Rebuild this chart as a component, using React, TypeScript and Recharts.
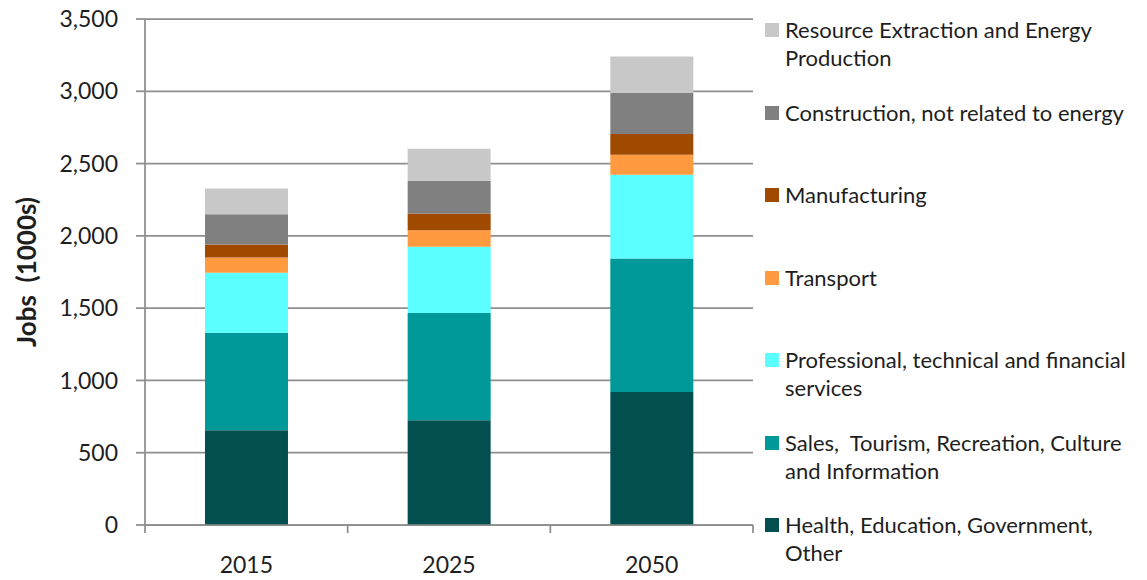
import { Bar, BarChart, CartesianGrid, XAxis, YAxis } from 'recharts'

const years = ['2015', '2025', '2050']

// stacked bottom -> top
const health = [655, 725, 920]
const sales = [675, 742, 924]
const professional = [415, 457, 579]
const transport = [105, 115, 138]
const manufacturing = [90, 115, 144]
const construction = [210, 227, 283]
const resource = [178, 221, 253]

const yTicks = [0, 500, 1000, 1500, 2000, 2500, 3000, 3500]

const series = [
  { key: 'health', name: 'Health, Education, Government, Other', color: '#024f50', values: health },
  { key: 'sales', name: 'Sales,  Tourism, Recreation, Culture and Information', color: '#009999', values: sales },
  { key: 'professional', name: 'Professional, technical and financial services', color: '#5bffff', values: professional },
  { key: 'transport', name: 'Transport', color: '#ff9a40', values: transport },
  { key: 'manufacturing', name: 'Manufacturing', color: '#a04a00', values: manufacturing },
  { key: 'construction', name: 'Construction, not related to energy', color: '#808080', values: construction },
  { key: 'resource', name: 'Resource Extraction and Energy Production', color: '#c8c8c8', values: resource },
]

const data = years.map((year, i) => {
  const row: Record<string, string | number> = { year }
  series.forEach((s) => (row[s.key] = s.values[i]))
  return row
})

const W = 1147
const H = 580
const PLOT_LEFT = 145
const PLOT_RIGHT = 753
const axisColor = '#8e8e8e'
const textColor = '#1e1e1e'
const font = 'Lato, "Open Sans", sans-serif'

const band = (PLOT_RIGHT - PLOT_LEFT) / years.length

function YearTick(props: any) {
  const { x, y, payload, index } = props
  const half = payload?.offset || band / 2
  return (
    <g>
      <line x1={x - half} x2={x - half} y1={y - 8} y2={y} stroke={axisColor} strokeWidth={1.75} />
      {index === years.length - 1 && (
        <line x1={x + half} x2={x + half} y1={y - 8} y2={y} stroke={axisColor} strokeWidth={1.75} />
      )}
      <text x={x} y={y + 40} textAnchor="middle" fontSize={23} fill={textColor} fontFamily={font}>
        {payload.value}
      </text>
    </g>
  )
}

function YLabel() {
  return (
    <text
      transform="translate(36,272) rotate(-90)"
      textAnchor="middle"
      fontSize={26}
      fontWeight="bold"
      fill={textColor}
      fontFamily={font}
      style={{ whiteSpace: 'pre' }}
    >
      Jobs  (1000s)
    </text>
  )
}

export default function App() {
  return (
    <div style={{ position: 'absolute', left: 0, top: 0, width: W, height: H, fontFamily: font, background: '#fff' }}>
      <BarChart width={W} height={H} data={data} margin={{ top: 19, right: W - PLOT_RIGHT, bottom: 0, left: 0 }} barCategoryGap="29.6%">
        <CartesianGrid vertical={false} stroke={axisColor} strokeWidth={1.75} />
        <XAxis
          dataKey="year"
          height={55}
          axisLine={{ stroke: axisColor, strokeWidth: 1.75 }}
          tickLine={false}
          tickSize={8}
          tickMargin={0}
          tick={<YearTick />}
          interval={0}
        />
        <YAxis
          width={PLOT_LEFT}
          domain={[0, 3500]}
          ticks={yTicks}
          tickFormatter={(v: number) => v.toLocaleString('en-US')}
          axisLine={{ stroke: axisColor, strokeWidth: 1.75 }}
          tickLine={{ stroke: axisColor, strokeWidth: 1.75 }}
          tickSize={9}
          tickMargin={18}
          tick={{ fontSize: 23, fill: textColor, fontFamily: font }}
          label={{ content: () => <YLabel /> }}
        />
        {series.map((s) => (
          <Bar key={s.key} dataKey={s.key} name={s.name} stackId="jobs" fill={s.color} isAnimationActive={false} />
        ))}
      </BarChart>
      <div style={{ position: 'absolute', left: 765, top: 16, width: 380 }}>
        {[...series].reverse().map((s) => (
          <div key={s.key} style={{ height: 82.5, display: 'flex', alignItems: 'flex-start' }}>
            <span style={{ width: 14, height: 14, background: s.color, marginTop: 7, flex: 'none' }} />
            <span
              style={{
                marginLeft: 6,
                fontSize: 22,
                lineHeight: '28px',
                color: textColor,
                width: 356,
                whiteSpace: 'pre-wrap',
              }}
            >
              {s.name}
            </span>
          </div>
        ))}
      </div>
    </div>
  )
}
